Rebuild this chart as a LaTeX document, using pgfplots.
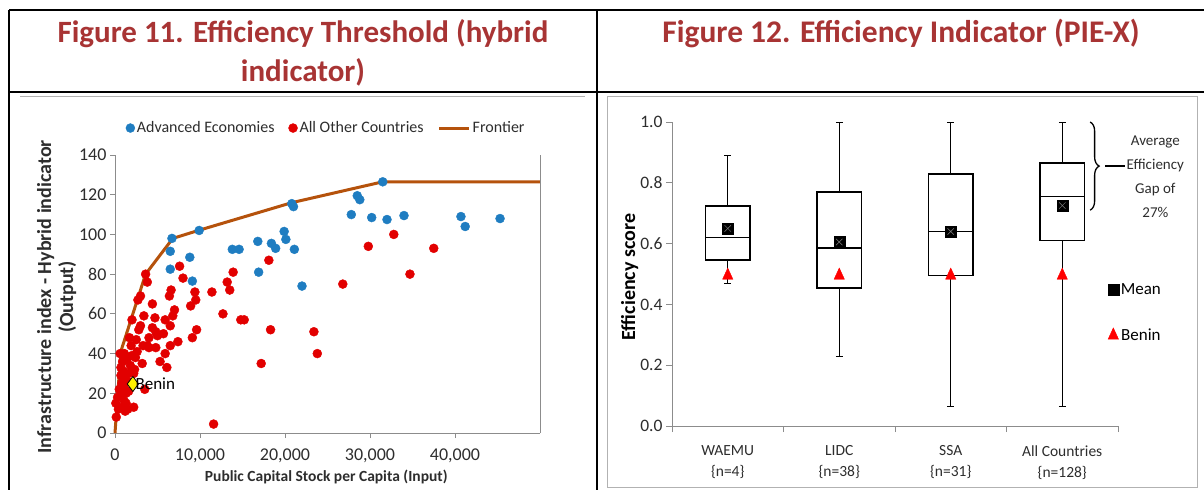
\documentclass[border=0pt]{standalone}
\usepackage{fontspec}
\setmainfont{Carlito}
\usepackage{pgfplots}
\pgfplotsset{compat=1.18}
\usepgfplotslibrary{statistics}
\usetikzlibrary{decorations.pathreplacing}
\definecolor{ttl}{RGB}{168,52,52}
\definecolor{aeblue}{RGB}{31,125,193}
\definecolor{oth}{RGB}{226,0,0}
\definecolor{front}{RGB}{181,82,12}
\definecolor{axgray}{RGB}{140,140,140}
\definecolor{txt}{RGB}{45,45,45}
\begin{document}
\begin{tikzpicture}
\path[use as bounding box] (0pt,0pt) rectangle (1204pt,-490pt);
% table frame
\draw[line width=2.5pt] (9pt,-10pt) -- (1204pt,-10pt);
\draw[line width=2.5pt] (9pt,-10pt) -- (9pt,-490pt);
\draw[line width=2.5pt] (597pt,-10pt) -- (597pt,-490pt);
\draw[line width=2.5pt] (9pt,-92pt) -- (1204pt,-92pt);
\draw[gray!60, line width=1pt] (20pt,-96pt) -- (585pt,-96pt);
\draw[gray!60, line width=1pt] (607pt,-96pt) rectangle (1197pt,-487pt);
% titles
\node[font=\fontsize{31}{39}\selectfont\bfseries, text=ttl, align=center, anchor=center] at (303pt,-52.5pt) {Figure 11. Efficiency Threshold (hybrid\\indicator)};
\node[font=\fontsize{31.5}{39}\selectfont\bfseries, text=ttl, anchor=center] at (901pt,-33pt) {Figure 12. Efficiency Indicator (PIE-X)};

% ---------------- left chart
\begin{axis}[
  at={(115pt,-433pt)}, anchor=south west, scale only axis,
  width=425pt, height=278pt,
  xmin=0, xmax=50000, ymin=0, ymax=140,
  scaled x ticks=false,
  axis x line*=bottom, axis y line*=left,
  axis line style={-, draw=axgray, line width=1pt},
  xtick={0,10000,20000,30000,40000},
  xticklabels={0,{10,000},{20,000},{30,000},{40,000}},
  ytick={0,20,40,60,80,100,120,140},
  tick align=outside, major tick length=5pt,
  tick style={draw=axgray, line width=0.8pt},
  /pgf/number format/assume math mode=true,
  ticklabel style={font=\fontsize{18}{20}\selectfont, text=txt},
  xticklabel style={yshift=-7pt},
  xlabel={Public Capital Stock per Capita (Input)},
  ylabel={Infrastructure index - Hybrid indicator\\(Output)},
  every axis x label/.style={at={(rel axis cs:0.497,-0.159)}, anchor=center, font=\fontsize{15.5}{18}\selectfont\bfseries, text=txt},
  every axis y label/.style={at={(rel axis cs:-0.137,0.49)}, anchor=center, rotate=90, align=center, font=\fontsize{20}{22}\selectfont\bfseries, text=txt},
  legend style={at={(rel axis cs:0.497,1.097)}, anchor=center, draw=none, fill=none,
    font=\fontsize{16}{18}\selectfont, text=txt,
    /tikz/every even column/.append style={column sep=12pt}},
  legend columns=-1,
  clip=false,
]
\addplot[only marks, mark=*, mark size=4.5pt, mark options={fill=aeblue, draw=aeblue}] coordinates {
(6700,98) (6500,91.5) (6500,82.5) (8800,88.5) (9100,76.5) (9900,102) (13800,92.5) (14600,92.5)
(16800,96.5) (16900,81) (18400,95.5) (18900,93) (19900,101.5) (20100,97.5) (21100,92.5)
(20800,115.5) (21000,114) (22000,74) (27800,110) (28500,119.5) (28800,117.5) (30200,108.5)
(31500,126.5) (32000,107.5) (34000,109.5) (40700,109) (41200,104) (45300,108)
};
\addlegendentry{Advanced Economies}
\addplot[only marks, mark=*, mark size=4.5pt, mark options={fill=oth, draw=oth}] coordinates {
(100,15) (150,8) (300,18) (400,12) (500,22) (600,40) (700,33) (700,29) (800,19) (800,25)
(900,13) (1000,31) (1000,27) (1050,23) (1100,16) (1200,11) (1300,15) (1300,20) (1400,37)
(1500,12) (1500,26) (1600,30) (1700,48) (1800,34) (1900,44) (2000,39) (2000,57) (2200,13)
(2300,32) (2400,38) (2500,47) (2600,41) (2700,67) (2800,52) (3000,69) (3000,54) (3200,35)
(3300,44) (3400,59) (3500,22) (3600,80) (3800,76) (3800,44) (4000,43) (4000,48) (4400,65)
(4400,53) (4700,58) (4800,51) (4800,43) (5000,49) (5300,36) (5700,50) (5900,57) (6100,33)
(6400,69) (6500,54) (6500,44) (6600,72) (6800,59) (7000,62) (5900,40) (7400,46) (7600,84)
(8000,78) (8900,64) (9100,48) (9400,71) (9500,67) (9600,52) (11400,71) (11600,4.5) (12700,60)
(13200,76) (13500,72) (13900,81) (14800,57) (15200,57) (17200,35) (18100,87) (18300,52)
(23400,51) (23800,40) (26800,75) (29800,94) (32800,100) (34700,80) (37500,93)
(1100,40) (2200,30) (1600,21) (900,36)
};
\addlegendentry{All Other Countries}
\addplot[front, line width=3pt, legend image code/.code={\draw[front, line width=3pt] (0pt,0pt) -- (30pt,0pt);}] coordinates {
(0,0) (680,41) (3600,80) (6800,98) (9800,102) (20800,116) (31500,126.5) (50000,126.5)
};
\addlegendentry{Frontier}
\addplot[only marks, mark=diamond*, mark size=7.5pt, mark options={fill=yellow, draw=black, line width=0.8pt},
  point meta=explicit symbolic, nodes near coords, forget plot,
  every node near coord/.append style={anchor=west, font=\fontsize{17}{19}\selectfont, text=black, xshift=-1pt, yshift=0pt}] coordinates {
(2100,24.7) [Benin]
};
\draw[axgray, line width=1pt] (rel axis cs:1,0) -- (rel axis cs:1,1);
\end{axis}

% ---------------- right chart
\begin{axis}[
  at={(672pt,-426pt)}, anchor=south west, scale only axis,
  width=446pt, height=304pt,
  xmin=0.5, xmax=4.5, ymin=0, ymax=1,
  axis x line*=bottom, axis y line*=left,
  axis line style={-, draw=axgray, line width=1pt},
  xtick={0.5,1.5,2.5,3.5,4.5}, xticklabels={,,,,},
  extra x ticks={1,2,3,4},
  extra x tick labels={{WAEMU\\\{n=4\}},{LIDC\\\{n=38\}},{SSA\\\{n=31\}},{All Countries\\\{n=128\}}},
  extra x tick style={major tick length=0pt, xticklabel style={align=center, font=\fontsize{15.5}{21}\selectfont, text=txt, yshift=-16pt}},
  ytick={0,0.2,0.4,0.6,0.8,1.0},
  yticklabel style={/pgf/number format/.cd, fixed, fixed zerofill, precision=1},
  tick align=outside, major tick length=6pt,
  tick style={draw=axgray, line width=0.8pt},
  /pgf/number format/assume math mode=true,
  ticklabel style={font=\fontsize{17.5}{20}\selectfont, text=txt},
  ylabel={Efficiency score},
  every axis y label/.style={at={(rel axis cs:-0.095,0.49)}, anchor=center, rotate=90, font=\fontsize{20}{22}\selectfont\bfseries, text=black},
  boxplot/draw direction=y,
  boxplot/box extend=0.4,
  boxplot/whisker extend=0.06,
  boxplot/every box/.style={draw=black, fill=white, line width=1.8pt},
  boxplot/every whisker/.style={draw=black, line width=0.7pt},
  boxplot/every median/.style={draw=black, line width=1.8pt},
  legend style={at={(axis cs:4.38,0.483)}, anchor=north west, draw=none, fill=none,
    font=\fontsize{17}{19}\selectfont, text=black, row sep=29pt},
  clip=false,
]
\addplot[forget plot, black, line width=1.8pt, boxplot prepared={lower whisker=0.47, lower quartile=0.545, median=0.62, upper quartile=0.725, upper whisker=0.89, draw position=1}] coordinates {};
\addplot[forget plot, black, line width=1.8pt, boxplot prepared={lower whisker=0.23, lower quartile=0.455, median=0.585, upper quartile=0.77, upper whisker=1.0, draw position=2}] coordinates {};
\addplot[forget plot, black, line width=1.8pt, boxplot prepared={lower whisker=0.065, lower quartile=0.495, median=0.64, upper quartile=0.83, upper whisker=1.0, draw position=3}] coordinates {};
\addplot[forget plot, black, line width=1.8pt, boxplot prepared={lower whisker=0.065, lower quartile=0.61, median=0.755, upper quartile=0.865, upper whisker=1.0, draw position=4}] coordinates {};
\addplot[only marks, mark=square*, mark size=5.5pt, mark options={fill=black, draw=black}] coordinates {
(1,0.65) (2,0.605) (3,0.64) (4,0.725)
};
\addlegendentry{Mean}
\addplot[only marks, mark=x, mark size=4.5pt, mark options={draw=gray, line width=0.5pt}, forget plot] coordinates {
(1,0.65) (2,0.605) (3,0.64) (4,0.725)
};
\addplot[only marks, mark=triangle*, mark size=7.5pt, mark options={fill=red, draw=red, xscale=0.8}] coordinates {
(1,0.495) (2,0.495) (3,0.495) (4,0.495)
};
\addlegendentry{Benin}
\draw[decorate, decoration={brace, amplitude=9pt}, line width=1.3pt] (axis cs:4.25,1.0) -- (axis cs:4.25,0.71);
\draw[line width=1.3pt] (axis cs:4.385,0.855) -- (axis cs:4.565,0.855);
\node[align=center, font=\fontsize{15}{23.7}\selectfont, text=txt, anchor=center] at (axis cs:4.835,0.82) {Average\\Efficiency\\Gap of\\27\%};
\end{axis}
\end{tikzpicture}
\end{document}
